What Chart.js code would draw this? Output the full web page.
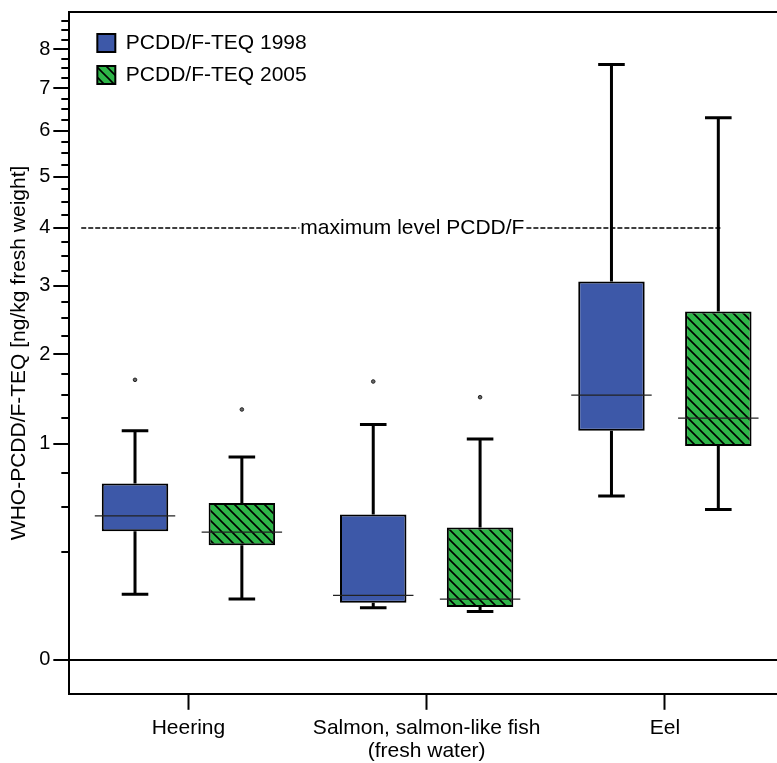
<!DOCTYPE html>
<html>
<head>
<meta charset="utf-8">
<script src="https://cdn.jsdelivr.net/npm/chart.js@4.4.1/dist/chart.umd.min.js"></script>
<style>
  html, body { margin: 0; padding: 0; background: #fff; overflow: hidden; }
  #wrap { width: 777px; height: 763px; overflow: hidden; }
  canvas { display: block; }
</style>
</head>
<body>
<div id="wrap"><canvas id="chart" width="800" height="770"></canvas></div>
<script>
const categories = ['Heering', ['Salmon, salmon-like fish', '(fresh water)'], 'Eel'];
const seriesNames = ['PCDD/F-TEQ 1998', 'PCDD/F-TEQ 2005'];

// box statistics, ng/kg fresh weight
const low_1998 = [0.092, 0.058, 0.576];
const q1_1998 = [0.355, 0.070, 1.126];
const median_1998 = [0.444, 0.089, 1.502];
const q3_1998 = [0.666, 0.453, 3.069];
const high_1998 = [1.126, 1.188, 7.60];
const outliers_1998 = [1.681, 1.661, null];

const low_2005 = [0.079, 0.050, 0.485];
const q1_2005 = [0.282, 0.060, 0.980];
const median_2005 = [0.350, 0.079, 1.253];
const q3_2005 = [0.528, 0.376, 2.603];
const high_2005 = [0.882, 1.045, 6.30];
const outliers_2005 = [1.344, 1.479, null];

const yMajorTicks = [0, 1, 2, 3, 4, 5, 6, 7, 8];
const yMinorStep = 0.25;
const yMin = -0.0248;
const yMax = 9;

const maxLevel = 4;
const maxLevelLabel = 'maximum level PCDD/F';
const maxLevelSpan = [-0.45, 2.24];   // in category units
const maxLevelLabelAt = 0.94;

const FONT = "'Liberation Sans', Arial, Helvetica, sans-serif";
Chart.defaults.font.family = FONT;
Chart.defaults.color = '#000';

// square-root value axis (signed so the small negative margin below 0 works)
const sroot = v => Math.sign(v) * Math.sqrt(Math.abs(v));
class SqrtScale extends Chart.LinearScale {
  getPixelForValue(value) {
    if (value === null || value === undefined || isNaN(value)) return NaN;
    const a = sroot(this.min), b = sroot(this.max);
    return this.getPixelForDecimal((sroot(value) - a) / (b - a));
  }
  getValueForPixel(pixel) {
    const a = sroot(this.min), b = sroot(this.max);
    const t = a + this.getDecimalForPixel(pixel) * (b - a);
    return Math.sign(t) * t * t;
  }
}
SqrtScale.id = 'sqrt';
SqrtScale.defaults = {};
Chart.register(SqrtScale);

const yTickValues = [];
for (let v = 0; v < yMax - 1e-9; v += yMinorStep) yTickValues.push(Math.round(v * 100) / 100);
const isMajor = v => yMajorTicks.includes(v);

function hatch(bg) {
  const c = document.createElement('canvas');
  c.width = 10; c.height = 10;
  const g = c.getContext('2d');
  g.fillStyle = bg;
  g.fillRect(0, 0, 10, 10);
  g.strokeStyle = '#000';
  g.lineWidth = 1.6;
  g.beginPath();
  for (const k of [-1, 0, 1]) {
    g.moveTo(-5, -5 + 10 * k);
    g.lineTo(15, 15 + 10 * k);
  }
  g.stroke();
  return g.createPattern(c, 'repeat');
}

const boxPlot = {
  id: 'boxPlot',
  afterLayout(chart) {
    // legend sits in the upper left corner of the plot
    const lg = chart.legend, a = chart.chartArea;
    const w = lg.width, h = lg.height;
    lg.left = a.left + 17;
    lg.top = a.top + 9.5;
    lg.right = lg.left + w;
    lg.bottom = lg.top + h;
  },
  beforeDatasetsDraw(chart) {
    const {ctx} = chart;
    const xs = chart.scales.x, ys = chart.scales.y;

    // dashed limit line with its label
    const yl = ys.getPixelForValue(maxLevel);
    const x0 = xs.getPixelForValue(maxLevelSpan[0]);
    const x1 = xs.getPixelForValue(maxLevelSpan[1]);
    const xc = xs.getPixelForValue(maxLevelLabelAt);
    ctx.save();
    ctx.font = '21px ' + FONT;
    const tw = ctx.measureText(maxLevelLabel).width;
    ctx.strokeStyle = '#000';
    ctx.lineWidth = 1.5;
    ctx.setLineDash([5, 2]);
    ctx.beginPath();
    ctx.moveTo(x0, yl); ctx.lineTo(xc - tw / 2 - 1, yl);
    ctx.moveTo(xc + tw / 2 + 2, yl); ctx.lineTo(x1, yl);
    ctx.stroke();
    ctx.setLineDash([]);
    ctx.fillStyle = '#000';
    ctx.textAlign = 'center';
    ctx.textBaseline = 'middle';
    ctx.fillText(maxLevelLabel, xc, yl);
    ctx.restore();

    // whiskers and caps
    chart.data.datasets.forEach((ds, di) => {
      chart.getDatasetMeta(di).data.forEach((bar, i) => {
        const x = bar.x, cap = bar.width * 0.4;
        const yHi = ys.getPixelForValue(ds.stats.high[i]);
        const yLo = ys.getPixelForValue(ds.stats.low[i]);
        ctx.save();
        ctx.strokeStyle = '#000';
        ctx.lineWidth = 3;
        ctx.beginPath();
        ctx.moveTo(x, yHi); ctx.lineTo(x, ys.getPixelForValue(ds.data[i][1]));
        ctx.moveTo(x, yLo); ctx.lineTo(x, ys.getPixelForValue(ds.data[i][0]));
        ctx.moveTo(x - cap / 2, yHi); ctx.lineTo(x + cap / 2, yHi);
        ctx.moveTo(x - cap / 2, yLo); ctx.lineTo(x + cap / 2, yLo);
        ctx.stroke();
        ctx.restore();
      });
    });
  },
  afterDatasetsDraw(chart) {
    const {ctx} = chart;
    const ys = chart.scales.y;
    chart.data.datasets.forEach((ds, di) => {
      chart.getDatasetMeta(di).data.forEach((bar, i) => {
        const x = bar.x, half = bar.width / 2 + 7;
        const ym = ys.getPixelForValue(ds.stats.median[i]);
        ctx.save();
        ctx.strokeStyle = '#222';
        ctx.lineWidth = 1.3;
        ctx.beginPath();
        ctx.moveTo(x - half, ym); ctx.lineTo(x + half, ym);
        ctx.stroke();
        const o = ds.stats.outliers[i];
        if (o !== null) {
          ctx.beginPath();
          ctx.arc(x, ys.getPixelForValue(o), 1.8, 0, Math.PI * 2);
          ctx.fillStyle = '#666';
          ctx.fill();
          ctx.lineWidth = 1;
          ctx.strokeStyle = '#222';
          ctx.stroke();
        }
        ctx.restore();
      });
    });
  },
  afterDraw(chart) {
    const {ctx, chartArea: a} = chart;
    const ys = chart.scales.y;
    ctx.save();
    ctx.strokeStyle = '#000';
    ctx.lineWidth = 2;
    ctx.beginPath();
    // minor ticks on the value axis
    ys.ticks.forEach(t => {
      if (isMajor(t.value)) return;
      const py = Math.round(ys.getPixelForValue(t.value));
      ctx.moveTo(a.left - 8, py); ctx.lineTo(a.left, py);
    });
    // frame line along the top
    ctx.moveTo(a.left - 1, a.top); ctx.lineTo(a.right, a.top);
    ctx.stroke();
    ctx.restore();
  }
};

new Chart(document.getElementById('chart'), {
  type: 'bar',
  data: {
    labels: categories,
    datasets: [
      {
        label: seriesNames[0],
        data: q1_1998.map((q, i) => [q, q3_1998[i]]),
        stats: {low: low_1998, median: median_1998, high: high_1998, outliers: outliers_1998},
        backgroundColor: '#3d58a8',
        borderColor: '#000',
        borderWidth: 2,
        borderSkipped: false
      },
      {
        label: seriesNames[1],
        data: q1_2005.map((q, i) => [q, q3_2005[i]]),
        stats: {low: low_2005, median: median_2005, high: high_2005, outliers: outliers_2005},
        backgroundColor: hatch('#2eb548'),
        borderColor: '#000',
        borderWidth: 2,
        borderSkipped: false
      }
    ]
  },
  options: {
    responsive: false,
    animation: false,
    categoryPercentage: 0.897,
    barPercentage: 0.622,
    layout: {padding: {left: 3, right: 16, top: 12, bottom: 0}},
    plugins: {
      tooltip: {enabled: false},
      legend: {
        position: 'chartArea',
        align: 'start',
        labels: {
          boxWidth: 18,
          boxHeight: 18,
          padding: 11,
          color: '#000',
          font: {size: 21}
        }
      }
    },
    scales: {
      x: {
        type: 'category',
        grid: {
          offset: false,
          drawOnChartArea: false,
          tickLength: 16,
          tickWidth: 2,
          tickColor: '#000'
        },
        border: {display: true, color: '#000', width: 2},
        ticks: {color: '#000', font: {size: 21, lineHeight: 1.1}, maxRotation: 0, autoSkip: false, padding: 7},
        afterFit(s) { s.paddingLeft = 0; s.paddingRight = 0; }
      },
      y: {
        type: 'sqrt',
        min: yMin,
        max: yMax,
        bounds: 'data',
        afterBuildTicks(s) { s.ticks = yTickValues.map(v => ({value: v})); },
        afterFit(s) { s.paddingTop = 0; s.paddingBottom = 0; },
        ticks: {
          autoSkip: false,
          color: '#000',
          padding: 3,
          font: {size: 20},
          callback: v => (isMajor(v) ? String(v) : '')
        },
        grid: {
          drawOnChartArea: true,
          color: c => (c.tick && c.tick.value === 0 ? '#000' : 'rgba(0,0,0,0)'),
          lineWidth: 2,
          tickLength: 16,
          tickWidth: 2,
          tickColor: c => (c.tick && isMajor(c.tick.value) ? '#000' : 'rgba(0,0,0,0)')
        },
        border: {display: true, color: '#000', width: 2},
        title: {
          display: true,
          text: 'WHO-PCDD/F-TEQ [ng/kg fresh weight]',
          color: '#000',
          font: {size: 21},
          padding: {top: 4, bottom: 4}
        }
      }
    }
  },
  plugins: [boxPlot]
});
</script>
</body>
</html>
